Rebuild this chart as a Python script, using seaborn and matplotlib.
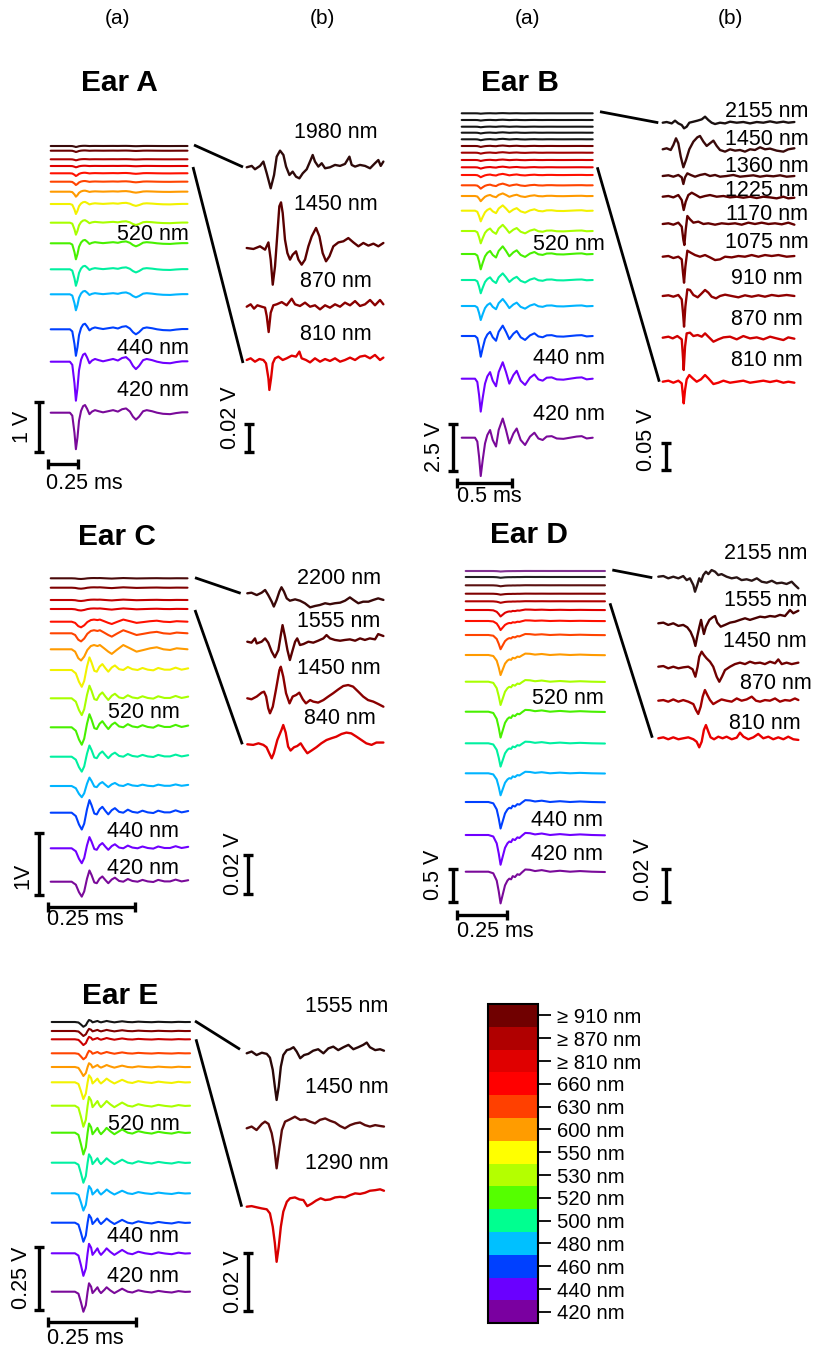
import numpy as np
import matplotlib
matplotlib.use("Agg")
import matplotlib.pyplot as plt
from matplotlib.colors import ListedColormap, BoundaryNorm
from matplotlib.cm import ScalarMappable
import seaborn as sns

sns.set_theme(style="white")
plt.rcParams["font.family"] = ["Liberation Sans", "DejaVu Sans"]
plt.rcParams["text.color"] = "black"

W, H = 815, 1349

# ---------------------------------------------------------------- data
# (a) columns: one normalised waveform per ear (dip = -1) times the dip depth in V
# (b) columns: zoomed infrared traces, time in ms, amplitude in mV

# Ear A
A_NM = [1980, 1450, 870, 810, 660, 630, 600, 550, 530, 520, 500, 480, 460, 440, 420]
A_DIP_V = [0.02, 0.026, 0.02, 0.026, 0.054, 0.066, 0.10, 0.20, 0.24, 0.32, 0.33, 0.32, 0.53, 0.78, 0.73]
A_SHAPE_MS = [0, 0.16, 0.18, 0.198, 0.21, 0.223, 0.236, 0.253, 0.27, 0.286, 0.303, 0.323, 0.344, 0.369,
              0.40, 0.436, 0.478, 0.52, 0.56, 0.595, 0.628, 0.66, 0.686, 0.71, 0.736, 0.77, 0.80, 0.845,
              0.886, 0.936, 0.995, 1.045, 1.095, 1.14]
A_SHAPE = [0, 0, -0.08, -0.55, -1.0, -0.68, -0.22, 0.05, 0.18, 0.21, 0.11, -0.04, 0.03, 0.07,
           0.04, 0.01, 0.04, 0.07, 0.03, 0.095, 0.117, 0.03, -0.11, -0.19, -0.11, 0.04, 0.07, 0.04,
           0, -0.03, -0.04, -0.01, 0.01, 0.01]
A_ZOOM_NM = [1980, 1450, 870, 810]
A1980_MS = [0, 0.042, 0.069, 0.111, 0.139, 0.167, 0.2, 0.228, 0.25, 0.278, 0.306, 0.328, 0.356, 0.383,
            0.411, 0.439, 0.467, 0.5, 0.533, 0.55, 0.569, 0.597, 0.625, 0.653, 0.694, 0.736, 0.778,
            0.819, 0.856, 0.875, 0.903, 0.944, 0.986, 1.028, 1.069, 1.097, 1.117, 1.139]
A1980_MV = [0, 1.0, -1.4, 1.0, 4.1, -4.3, -15.0, -5.5, 7.6, 11.9, 8.8, 0.5, -5.5, -3.1,
            -6.7, -7.9, -4.3, -1.4, 5.2, 8.8, 4.1, 0.5, 2.9, -0.7, 0, 1.7, 1.0,
            2.4, 7.6, 1.7, 0.5, 1.7, 1.0, -0.7, 2.9, 5.2, 1.0, 4.1]
A1450_MS = [0, 0.056, 0.111, 0.153, 0.181, 0.2, 0.217, 0.236, 0.256, 0.272, 0.286, 0.3, 0.319, 0.339,
            0.361, 0.383, 0.411, 0.431, 0.458, 0.486, 0.514, 0.542, 0.578, 0.606, 0.633, 0.661, 0.689,
            0.722, 0.764, 0.806, 0.847, 0.889, 0.931, 0.972, 1.014, 1.056, 1.097, 1.139]
A1450_MV = [0, -0.7, 1.2, -1.2, 4.0, -8.3, -26.2, -13.1, 10.7, 29.8, 32.6, 25.0, 6.0, -3.6,
            -8.3, -4.8, -2.4, -8.3, -11.9, -8.3, 1.2, 8.3, 14.3, 8.3, -3.6, -9.5, -6.0,
            1.2, 4.0, 4.8, 7.1, 4.0, 1.2, 3.6, 1.7, 3.1, 1.2, 3.6]
A870_MS = [0, 0.033, 0.061, 0.089, 0.125, 0.153, 0.167, 0.183, 0.2, 0.222, 0.25, 0.292, 0.333, 0.375,
           0.403, 0.444, 0.486, 0.528, 0.569, 0.611, 0.653, 0.694, 0.736, 0.778, 0.819, 0.861, 0.903,
           0.944, 0.986, 1.028, 1.069, 1.111, 1.139]
A870_MV = [0, 1.7, -1.4, 1.0, 0, -0.7, -6.7, -18.1, -4.3, 1.0, 1.7, 3.3, 1.0, 5.7,
           1.7, 0.5, 2.9, 0, 1.0, -1.9, 1.0, -0.7, 1.7, 0, 2.9, 1.0, 4.0,
           0.5, 1.7, 4.8, 1.0, 4.8, 1.7]
A810_MS = [0, 0.033, 0.069, 0.106, 0.139, 0.161, 0.181, 0.189, 0.203, 0.217, 0.236, 0.264, 0.3, 0.333,
           0.375, 0.411, 0.439, 0.458, 0.494, 0.528, 0.569, 0.611, 0.653, 0.694, 0.736, 0.778, 0.819,
           0.861, 0.903, 0.944, 0.986, 1.028, 1.069, 1.111, 1.139]
A810_MV = [0, 1.2, -1.2, 0.7, 0, -2.4, -13.1, -21.4, -13.1, -2.4, 1.2, 2.4, 0, 1.2,
           3.1, 2.4, 6.0, 1.2, 0, -1.7, 1.2, -1.2, 0.7, -0.7, 1.2, -1.2, 0,
           1.7, 0, 2.4, 3.1, 1.2, 3.6, 0, 1.7]

# Ear B
B_NM = [2155, 1450, 1360, 1225, 1170, 1075, 910, 870, 810, 660, 630, 600, 550, 530, 520, 500, 480,
        460, 440, 420]
B_DIP_V = [0.02, 0.03, 0.03, 0.04, 0.05, 0.05, 0.05, 0.05, 0.07, 0.12, 0.18, 0.28, 0.57, 0.66, 0.82,
           0.71, 0.75, 1.11, 1.76, 2.05]
B_SHAPE_MS = [0, 0.121, 0.142, 0.158, 0.173, 0.191, 0.212, 0.233, 0.258, 0.282, 0.312, 0.336, 0.373,
              0.403, 0.433, 0.47, 0.5, 0.536, 0.576, 0.621, 0.661, 0.697, 0.736, 0.773, 0.818, 0.864,
              0.924, 0.985, 1.045, 1.091, 1.136, 1.191]
B_SHAPE = [0, 0, -0.10, -0.50, -1.0, -0.58, -0.15, 0.07, 0.20, -0.06, -0.23, 0.20, 0.50,
           0.20, -0.15, 0.11, 0.24, -0.06, -0.19, 0.03, 0.13, -0.02, -0.06, 0.03, 0.04, -0.02,
           -0.03, 0, 0.03, 0.04, -0.02, 0]
B_ZOOM_NM = [2155, 1450, 1360, 1225, 1170, 1075, 910, 870, 810]
B2155_MS = [0, 0.036, 0.082, 0.112, 0.142, 0.173, 0.194, 0.218, 0.242, 0.279, 0.315, 0.355, 0.385,
            0.415, 0.445, 0.476, 0.521, 0.567, 0.612, 0.673, 0.733, 0.794, 0.855, 0.915, 0.976,
            1.036, 1.097, 1.142, 1.197]
B2155_MV = [0, 1.3, -1.3, 3.8, -1.3, -4.4, -10.6, -7.5, 0, 1.9, 3.8, 6.3, 11.3,
            5.0, 0, -2.5, 0, -1.3, 1.9, 0, 1.3, -1.3, 1.3, 0, 2.5,
            0, 1.9, 0, 1.3]
B1450_MS = [0, 0.036, 0.073, 0.097, 0.121, 0.142, 0.164, 0.188, 0.212, 0.242, 0.279, 0.315, 0.339,
            0.37, 0.4, 0.43, 0.461, 0.491, 0.521, 0.567, 0.612, 0.658, 0.703, 0.748, 0.794, 0.839,
            0.885, 0.93, 0.976, 1.036, 1.097, 1.142, 1.197]
B1450_MV = [0, 1.9, -1.3, 8.1, 20.6, 11.3, -13.8, -33.8, -20.0, 0, 14.4, 22.5, 25.0,
            14.4, 6.3, 11.3, 16.3, 6.3, -1.3, -4.4, 0, -2.5, -1.3, -4.4, 0, -1.3,
            3.8, 0, 1.3, -2.5, -4.4, 0, 1.9]
B1360_MS = [0, 0.052, 0.097, 0.142, 0.173, 0.188, 0.203, 0.224, 0.255, 0.294, 0.339, 0.385, 0.43,
            0.476, 0.521, 0.582, 0.642, 0.703, 0.764, 0.824, 0.885, 0.945, 1.006, 1.067, 1.127, 1.197]
B1360_MV = [0, 1.3, -1.3, 1.9, -2.5, -15.0, -2.5, 5.0, 1.9, -1.3, 1.9, 3.8, 0,
            1.9, -1.3, 0, 1.9, -1.3, 0, 1.3, -1.3, 0.6, -0.6, 1.3, -1.3, 0]
B1225_MS = [0, 0.052, 0.097, 0.142, 0.173, 0.191, 0.209, 0.233, 0.264, 0.303, 0.339, 0.385, 0.43,
            0.491, 0.552, 0.612, 0.673, 0.733, 0.794, 0.855, 0.915, 0.976, 1.036, 1.097, 1.142, 1.197]
B1225_MV = [0, 1.3, -1.3, 3.1, -6.3, -25.0, -9.4, 3.1, 7.5, 3.1, -1.3, 1.3, 3.1,
            0, 1.3, -1.3, 0, -1.9, 0, -2.5, 0, -1.3, -3.1, 0, -3.1, -1.9]
B1170_MS = [0, 0.052, 0.097, 0.142, 0.173, 0.188, 0.197, 0.209, 0.224, 0.248, 0.279, 0.324, 0.37,
            0.415, 0.476, 0.536, 0.597, 0.658, 0.718, 0.779, 0.839, 0.9, 0.961, 1.021, 1.082, 1.142,
            1.197]
B1170_MV = [0, 1.3, -1.3, 2.5, -5.0, -30.0, -39.4, -11.3, 15.0, 8.8, 2.5, 4.4, 0,
            1.3, -1.3, 1.3, 0, 1.3, -1.3, 2.5, 0, 2.5, 0, 1.3, -0.6, 2.5, -1.3]
B1075_MS = [0, 0.052, 0.097, 0.142, 0.173, 0.185, 0.194, 0.206, 0.224, 0.255, 0.294, 0.339, 0.385,
            0.43, 0.476, 0.521, 0.567, 0.627, 0.688, 0.748, 0.809, 0.87, 0.93, 0.991, 1.052, 1.127,
            1.197]
B1075_MV = [0, 1.3, -2.5, 0, -5.0, -31.3, -48.8, -18.8, 11.3, 7.5, 3.1, 0, 3.1,
            -1.3, -6.3, -5.0, 0, -1.3, 1.3, 0, 3.1, 0, 3.1, 1.3, 3.1, 0, 1.3]
B910_MS = [0, 0.052, 0.097, 0.142, 0.173, 0.185, 0.194, 0.206, 0.224, 0.248, 0.279, 0.318, 0.355,
           0.385, 0.415, 0.445, 0.485, 0.521, 0.567, 0.627, 0.688, 0.748, 0.809, 0.87, 0.93, 0.991,
           1.052, 1.127, 1.197]
B910_MV = [0, 1.3, -1.3, 1.9, -6.3, -32.5, -57.5, -20.0, 12.5, 11.3, 1.9, -2.5, 5.0,
           11.3, 6.3, -1.3, -4.4, 0, 2.5, 0, -2.5, 1.3, -1.3, 1.3, -1.3, 1.9,
           0, 1.9, 0]
B870_MS = [0, 0.052, 0.091, 0.133, 0.173, 0.182, 0.191, 0.203, 0.218, 0.248, 0.279, 0.318, 0.355,
           0.385, 0.415, 0.461, 0.506, 0.552, 0.612, 0.673, 0.733, 0.794, 0.855, 0.915, 0.976, 1.036,
           1.097, 1.142, 1.197]
B870_MV = [0, 1.9, -1.3, 3.1, -3.1, -29.4, -60.6, -16.9, 8.1, 9.4, 3.1, 5.0, 1.9,
           8.1, 1.9, -7.5, -3.1, 0.6, 1.9, -3.1, 3.1, -1.3, 0.6, -3.1, 1.9, -1.3,
           -4.4, 0.6, -1.9]
B810_MS = [0, 0.052, 0.097, 0.142, 0.173, 0.182, 0.191, 0.203, 0.218, 0.242, 0.273, 0.309, 0.348,
           0.385, 0.415, 0.461, 0.506, 0.552, 0.612, 0.673, 0.733, 0.794, 0.855, 0.915, 0.976, 1.036,
           1.097, 1.142, 1.197]
B810_MV = [0, 1.9, -1.9, 1.9, -3.1, -21.9, -40.6, -15.6, 4.4, 12.5, 6.3, 0, 4.4,
           12.5, 6.3, -4.4, -1.9, 1.9, -1.9, 0, 1.9, -1.9, 0, 1.9, -0.6, 1.9,
           -1.9, 0, -1.9]

# Ear C (two waveform types: long and short wavelengths)
C_NM = [2200, 1555, 1450, 840, 660, 630, 600, 550, 530, 520, 500, 480, 460, 440, 420]
C_DIP_V = [0.011, 0.016, 0.016, 0.024, 0.09, 0.13, 0.18, 0.27, 0.27, 0.28, 0.24, 0.18, 0.27, 0.24, 0.24]
C_WAVE = ["red"] * 7 + ["blue"] * 8
C_RED_MS = [0, 0.06, 0.07, 0.079, 0.087, 0.096, 0.105, 0.115, 0.124, 0.134, 0.141, 0.153, 0.165,
            0.175, 0.189, 0.208, 0.227, 0.246, 0.266, 0.285, 0.304, 0.323, 0.342, 0.361, 0.392]
C_RED = [0, 0, -0.21, -0.79, -1.0, -0.65, -0.06, 0.29, 0.38, 0.29, 0.38, 0.09, -0.21,
         -0.41, -0.06, 0.38, 0.09, -0.21, -0.06, 0.09, 0.18, 0, -0.06, 0.09, 0]
C_BLUE_MS = [0, 0.06, 0.072, 0.081, 0.089, 0.096, 0.104, 0.111, 0.117, 0.125, 0.132, 0.14, 0.148,
             0.157, 0.165, 0.175, 0.184, 0.196, 0.208, 0.221, 0.234, 0.249, 0.263, 0.278, 0.294,
             0.308, 0.326, 0.342, 0.358, 0.375, 0.385, 0.394]
C_BLUE = [0, 0, -0.2, -0.7, -1.0, -0.65, 0.2, 0.75, 0.45, -0.05, -0.1, 0.2, 0.35,
          0.1, -0.1, 0.15, 0.27, 0.05, 0.0, 0.18, 0.05, 0.0, 0.12, 0.02, -0.02,
          0.12, 0.02, 0.02, 0.14, 0.02, 0.06, 0.1]
C_ZOOM_NM = [2200, 1555, 1450, 840]
C2200_MS = [0, 0.012, 0.027, 0.041, 0.051, 0.06, 0.07, 0.076, 0.084, 0.092, 0.098, 0.105, 0.113,
            0.122, 0.137, 0.151, 0.165, 0.18, 0.194, 0.208, 0.223, 0.237, 0.251, 0.266, 0.28, 0.294,
            0.304, 0.318, 0.332, 0.347, 0.361, 0.375, 0.39]
C2200_MV = [0, 0.3, -0.9, 0.3, 1.7, -0.9, -4.3, -6.8, -3.4, 0.9, 3.1, 0.9, -2.6,
            -3.8, -3.1, -3.8, -5.1, -7.2, -6.5, -6.0, -5.1, -5.6, -5.1, -4.8, -3.8, -2.1,
            -3.4, -5.1, -4.3, -4.3, -3.4, -2.6, -3.4]
C1555_MS = [0, 0.012, 0.022, 0.027, 0.041, 0.051, 0.06, 0.07, 0.079, 0.089, 0.096, 0.101, 0.108,
            0.115, 0.122, 0.13, 0.137, 0.143, 0.151, 0.161, 0.175, 0.189, 0.203, 0.218, 0.227, 0.237,
            0.251, 0.266, 0.28, 0.294, 0.309, 0.323, 0.337, 0.351, 0.366, 0.375, 0.39]
C1555_MV = [0, -0.5, 1.7, -0.9, 0, 1.7, -0.5, -5.1, -8.0, -4.3, 3.4, 8.5, 2.6,
            -4.3, -9.4, -4.3, 0, 1.7, -1.7, -1.2, 0, -0.5, 0.5, 1.7, 3.4, 1.7,
            0.9, 0.5, 0.9, 1.2, 0.5, 1.7, 0.9, 1.7, 1.2, 3.9, 2.9]
C1450_MS = [0, 0.012, 0.027, 0.041, 0.048, 0.054, 0.06, 0.065, 0.073, 0.082, 0.092, 0.096, 0.103,
            0.111, 0.121, 0.13, 0.14, 0.149, 0.159, 0.168, 0.18, 0.189, 0.203, 0.218, 0.232, 0.246,
            0.261, 0.275, 0.289, 0.303, 0.318, 0.332, 0.346, 0.361, 0.375, 0.39]
C1450_MV = [0, -0.5, 0.9, 2.9, 3.4, 0.9, -5.1, -7.7, -4.3, 4.3, 14.5, 16.2, 11.1,
            2.6, -2.6, 0.9, 1.7, 2.9, -0.5, -2.6, -0.9, -1.7, -2.2, -0.9, 0.9, 2.6,
            4.6, 6.3, 6.8, 6.0, 3.4, 0.9, -0.9, -1.7, -2.9, -4.3]
C840_MS = [0, 0.017, 0.032, 0.046, 0.055, 0.063, 0.07, 0.076, 0.086, 0.098, 0.103, 0.11, 0.117,
           0.124, 0.134, 0.143, 0.153, 0.162, 0.172, 0.184, 0.198, 0.212, 0.227, 0.241, 0.255, 0.27,
           0.284, 0.298, 0.313, 0.327, 0.341, 0.356, 0.37, 0.39]
C840_MV = [0, -0.3, 0.5, -0.3, -1.5, -4.6, -7.2, -4.6, 2.2, 7.4, 9.9, 6.0, -1.2,
           -3.2, -1.5, -0.9, 0.5, -2.1, -4.6, -3.2, -1.5, 0.5, 2.2, 3.1, 3.9, 5.3,
           6.0, 5.6, 3.9, 2.2, 0.5, -0.3, 0.9, 0.9]

# Ear D
D_NM = [420, 2155, 1555, 1450, 870, 810, 660, 630, 600, 530, 520, 500, 480, 460, 440, 420]
D_DIP_V = [0.008, 0.012, 0.015, 0.015, 0.023, 0.10, 0.14, 0.22, 0.31, 0.36, 0.40, 0.36, 0.34, 0.41,
           0.46, 0.49]
D_SHAPE_MS = [0, 0.112, 0.136, 0.153, 0.163, 0.172, 0.182, 0.194, 0.206, 0.215, 0.224, 0.232, 0.243,
              0.255, 0.265, 0.278, 0.294, 0.317, 0.342, 0.375, 0.416, 0.465, 0.515, 0.564, 0.622, 0.687]
D_SHAPE = [0, 0, -0.05, -0.28, -0.62, -1.0, -0.74, -0.43, -0.28, -0.22, -0.24, -0.14, -0.17,
           -0.08, -0.10, -0.02, 0.07, 0.06, 0.02, 0.05, 0.0, 0.03, 0.0, 0.02, 0.0, -0.01]
D_ZOOM_NM = [2155, 1555, 1450, 870, 810]
D2155_MS = [0, 0.025, 0.049, 0.074, 0.099, 0.123, 0.14, 0.156, 0.173, 0.181, 0.192, 0.202, 0.211,
            0.222, 0.235, 0.247, 0.263, 0.28, 0.296, 0.312, 0.337, 0.362, 0.387, 0.411, 0.436, 0.461,
            0.486, 0.51, 0.535, 0.56, 0.584, 0.609, 0.633, 0.658, 0.674, 0.691]
D2155_MV = [0, 0.4, -1.0, 0, -1.0, 0.4, -2.1, -1.0, -5.2, -9.3, -5.2, -1.0, -3.1,
            1.0, 3.1, 1.6, 4.1, 3.1, 1.0, 1.6, 0, -1.0, -0.4, -2.1, -1.6, -2.5,
            -1.0, -3.1, -3.7, -2.5, -4.1, -3.7, -4.5, -3.1, -5.2, -7.2]
D1555_MS = [0, 0.025, 0.049, 0.074, 0.099, 0.123, 0.143, 0.159, 0.173, 0.183, 0.192, 0.202, 0.211,
            0.219, 0.225, 0.235, 0.252, 0.268, 0.28, 0.291, 0.308, 0.329, 0.354, 0.378, 0.403, 0.428,
            0.452, 0.477, 0.502, 0.526, 0.551, 0.576, 0.6, 0.625, 0.65, 0.666, 0.691]
D1555_MV = [0, 0.4, -1.0, 0, -1.6, -1.0, -2.5, -5.2, -9.3, -14.0, -8.2, -2.5, 2.1,
            -3.1, -6.6, -2.1, 2.1, 3.7, 4.5, 0.4, -2.1, -1.0, 0.4, 1.0, 2.1, 3.1,
            2.1, 3.1, 4.1, 3.7, 4.5, 4.1, 5.2, 4.5, 8.2, 6.2, 7.8]
D1450_MS = [0, 0.025, 0.049, 0.074, 0.099, 0.123, 0.148, 0.169, 0.183, 0.194, 0.202, 0.214, 0.225,
            0.238, 0.255, 0.271, 0.288, 0.301, 0.314, 0.329, 0.354, 0.378, 0.403, 0.428, 0.452, 0.477,
            0.502, 0.526, 0.551, 0.576, 0.592, 0.609, 0.633, 0.658, 0.691]
D1450_MV = [0, 0.4, -1.0, 0, -1.0, -0.4, 0, -1.6, -6.2, 0, 6.2, 9.3, 7.2,
            5.2, 3.1, 0, -6.2, -9.3, -6.2, -2.1, 0, 1.6, 2.5, 1.6, 3.1, 2.1,
            2.5, 1.6, 3.1, 2.1, 4.5, 1.6, 2.5, 1.6, 2.5]
D870_MS = [0, 0.025, 0.049, 0.074, 0.099, 0.123, 0.148, 0.173, 0.186, 0.197, 0.209, 0.219, 0.23,
           0.242, 0.255, 0.271, 0.291, 0.312, 0.337, 0.362, 0.387, 0.411, 0.436, 0.461, 0.482, 0.502,
           0.526, 0.551, 0.576, 0.6, 0.625, 0.65, 0.674, 0.691]
D870_MV = [0, 0.4, -0.6, 0.8, -0.6, 0.4, -0.6, -2.1, -5.8, -8.2, -3.7, 2.5, 6.6,
           3.5, 0.4, -2.1, -0.6, 0.8, 0, -0.6, 1.4, 0, 0.8, 2.5, 0, -0.6,
           0.4, 0, 1.4, -0.6, 0.4, 0, 1.4, 0.4]
D810_MS = [0, 0.025, 0.049, 0.074, 0.099, 0.123, 0.148, 0.173, 0.189, 0.202, 0.214, 0.225, 0.235,
           0.247, 0.258, 0.275, 0.296, 0.317, 0.337, 0.362, 0.387, 0.403, 0.42, 0.444, 0.469, 0.493,
           0.518, 0.543, 0.567, 0.592, 0.617, 0.641, 0.666, 0.691]
D810_MV = [0, 0.6, -0.6, 0.6, -0.6, 0, 0.6, -0.6, -2.1, -5.6, -2.1, 5.2, 8.2,
           4.1, 0.6, -0.6, 1.0, 0, 1.0, -0.6, 0.4, 3.5, 1.0, -0.6, 0.6, 2.7,
           0, 1.0, -0.6, 0.6, -0.6, 1.0, -0.6, -1.0]

# Ear E
E_NM = [1555, 1450, 1290, 630, 600, 550, 530, 520, 500, 480, 460, 440, 420]
E_DIP_V = [0.019, 0.020, 0.023, 0.024, 0.036, 0.067, 0.084, 0.087, 0.080, 0.069, 0.076, 0.090, 0.080]
E_SHAPE_MS = [0, 0.066, 0.076, 0.083, 0.09, 0.097, 0.102, 0.106, 0.112, 0.116, 0.123, 0.13, 0.135,
              0.14, 0.15, 0.156, 0.166, 0.178, 0.189, 0.2, 0.216, 0.229, 0.246, 0.265, 0.284, 0.303,
              0.322, 0.341, 0.36, 0.379, 0.393]
E_SHAPE = [0, 0, -0.10, -0.52, -1.0, -0.67, 0.0, 0.42, 0.25, -0.07, 0.07, 0.22, 0.04,
           -0.07, 0.10, 0.22, 0.07, -0.07, 0.04, 0.15, 0, -0.04, 0.07, 0, -0.04, 0.04,
           -0.01, -0.04, 0.03, -0.01, 0]
E_ZOOM_NM = [1555, 1450, 1290]
E1555_MS = [0, 0.014, 0.028, 0.043, 0.057, 0.066, 0.074, 0.08, 0.085, 0.091, 0.097, 0.104, 0.114,
            0.123, 0.133, 0.142, 0.152, 0.163, 0.175, 0.189, 0.203, 0.218, 0.232, 0.246, 0.26, 0.275,
            0.289, 0.303, 0.317, 0.331, 0.341, 0.35, 0.365, 0.379, 0.39]
E1555_MV = [0, 0.6, -0.6, 0.2, -0.2, -1.5, -5.7, -11.5, -16.1, -11.5, -4.6, -0.6, 1.1,
            1.4, 2.1, 0.6, -1.7, -0.6, -0.2, 0.9, 1.4, 0, 1.7, 2.3, 1.1, 2.1,
            2.9, 1.4, 2.1, 2.9, 3.7, 2.1, 1.1, 1.4, 0.9]
E1450_MS = [0, 0.014, 0.028, 0.043, 0.052, 0.062, 0.071, 0.078, 0.085, 0.092, 0.1, 0.109, 0.123,
            0.137, 0.152, 0.166, 0.18, 0.194, 0.208, 0.223, 0.237, 0.251, 0.265, 0.279, 0.294, 0.308,
            0.322, 0.336, 0.35, 0.365, 0.379, 0.39]
E1450_MV = [0, 0.6, -0.6, 1.5, 2.3, 1.5, -1.7, -6.3, -13.8, -7.5, -0.6, 2.3, 3.1,
            4.0, 2.9, 3.1, 2.3, 1.7, 2.9, 3.4, 2.6, 2.0, 0.8, 0, 1.1, 1.7,
            2.0, 1.1, 0.6, 1.1, 0.8, 0.6]
E1290_MS = [0, 0.014, 0.028, 0.043, 0.057, 0.066, 0.074, 0.08, 0.085, 0.091, 0.097, 0.104, 0.114,
            0.123, 0.137, 0.15, 0.161, 0.172, 0.185, 0.197, 0.21, 0.223, 0.237, 0.251, 0.265, 0.279,
            0.294, 0.308, 0.322, 0.336, 0.35, 0.365, 0.379, 0.39]
E1290_MV = [0, 0.2, -0.2, -0.6, -0.9, -2.3, -6.9, -12.6, -19.0, -13.8, -6.9, -1.7, 1.7,
            2.9, 3.2, 2.5, 2.3, 0.2, 1.1, 2.1, 2.9, 2.3, 2.5, 3.2, 3.4, 3.2,
            4.0, 4.6, 4.4, 4.8, 5.5, 5.7, 6.0, 5.5]

# scale-bar values: (a) volts, (a) ms, (b) mV
A_BARS = (1.0, 0.25, 20)
B_BARS = (2.5, 0.5, 50)
C_BARS = (1.0, 0.25, 20)
D_BARS = (0.5, 0.25, 20)
E_BARS = (0.25, 0.25, 20)

LEGEND_LABELS = ["≥ 910 nm", "≥ 870 nm", "≥ 810 nm", "660 nm", "630 nm", "600 nm", "550 nm",
                 "530 nm", "520 nm", "500 nm", "480 nm", "460 nm", "440 nm", "420 nm"]

# ---------------------------------------------------------------- styles
LEGEND_COLORS = ["#700000", "#b00000", "#e00000", "#ff0000", "#ff4000", "#ff9c00", "#ffff00",
                 "#b4ff00", "#55ff00", "#00ff90", "#00c0ff", "#0040ff", "#6a00ff", "#7a00a0"]
VIS = {420: "#7a0a9a", 440: "#7000ff", 460: "#0040ff", 480: "#00b4ff", 500: "#00f0a0",
       520: "#48f000", 530: "#a8ff00", 550: "#f2f200", 600: "#ff9a00", 630: "#ff4400", 660: "#ff1000"}
LABEL_PT = 15.5

# pixel layout of each ear (positions only)
LAYOUT = {
    "A": dict(title=(119.5, 83),
              a_xo=50.7, a_sx=120, a_sy=50,
              a_base=[146, 150.7, 159.3, 166, 173.3, 181.7, 191.7, 204, 222.7, 243.3, 269.3,
                      294.3, 329.3, 361.7, 412.7],
              a_ir=["#3a0a0a", "#6a0000", "#b00000", "#e00000"],
              a_lab_x=189, a_lab_y=[235, 348, 390],
              b_xo=246.7, b_sx=120, b_sy=1.4, b_base=[167.3, 248, 306.7, 360],
              b_col=["#2e0a0a", "#5a0000", "#8a0000", "#e00000"],
              b_lab_x=[336] * 4, b_lab_y=[132.7, 204, 281.7, 335],
              vbar_a=(39.3, 451.7), hbar_a=(47.7, 464.3), vbar_b=(249.3, 451.7),
              vlab_a=(22, 427, "1 V"), hlab_a=(46, 483.3), vlab_b=(230, 418),
              conn=[((194, 145), (243, 167)), ((193, 167), (243, 363))]),
    "B": dict(title=(519.5, 83),
              a_xo=461.7, a_sx=110, a_sy=18.7,
              a_base=[113.3, 120, 126.7, 132.7, 139.3, 146, 152.7, 160, 167.3, 175, 185.3, 196,
                      210.7, 231, 254, 280, 306, 336, 378.7, 437.7],
              a_ir=["#151515"] * 5 + ["#700000", "#a00000", "#d00000", "#e80000"],
              a_lab_x=605, a_lab_y=[244.3, 359, 415],
              b_xo=662.7, b_sx=110, b_sy=0.533,
              b_base=[122.7, 149.3, 176, 196.7, 224, 256.7, 296, 337.7, 381.7],
              b_col=["#1a1010", "#3a0a0a", "#4a0505", "#5a0000", "#650000", "#780000", "#900000",
                     "#d00000", "#f00000"],
              b_lab_x=[767] * 9,
              b_lab_y=[111.7, 139.3, 166.7, 190, 215, 242.7, 278.3, 319.3, 360],
              vbar_a=(452.7, 470.7), hbar_a=(456.7, 482.7), vbar_b=(665.7, 470),
              vlab_a=(435, 446.7, "2.5 V"), hlab_a=(457, 497), vlab_b=(646.7, 440),
              conn=[((600, 111.7), (658.3, 122.7)), ((597.3, 167.3), (659.3, 381.7))]),
    "C": dict(title=(117, 537),
              a_xo=50.7, a_sx=349, a_sy=62.3,
              a_base=[578.3, 587.7, 600, 609, 621.7, 633.3, 649.3, 670, 698.3, 727.3, 756.7, 786,
                      812.7, 848.3, 881.7],
              a_ir=["#4a0a0a", "#800000", "#c00000", "#e00000"],
              a_lab_x=179.3, a_lab_y=[712.7, 831.7, 868.3],
              b_xo=247.3, b_sx=349, b_sy=1.95, b_base=[593.3, 641.7, 698.3, 744.3],
              b_col=["#3a0808", "#5a0000", "#8a0000", "#e00000"],
              b_lab_x=[339, 339, 339, 340], b_lab_y=[578.3, 621.7, 668.3, 718.3],
              vbar_a=(39.3, 895), hbar_a=(47.7, 906.7), vbar_b=(248.3, 894),
              vlab_a=(23.3, 876, "1V"), hlab_a=(46.7, 919.3), vlab_b=(233.3, 863.3),
              conn=[((195, 577.7), (240.7, 593.3)), ((195, 610), (242.3, 744.3))]),
    "D": dict(title=(528.7, 535),
              a_xo=465.7, a_sx=202.7, a_sy=64.7,
              a_base=[571, 577, 585.3, 593.7, 601.3, 610, 621, 635, 655, 681.7, 711.7, 743.3,
                      773.3, 802, 835, 871.7],
              a_ir=["#803090", "#202020", "#5a1010", "#800000", "#b00000", "#e00000"],
              a_lab_x=603.3, a_lab_y=[698.3, 820, 854],
              b_xo=658.3, b_sx=202.7, b_sy=1.617, b_base=[576.7, 623.3, 666.7, 700.7, 738.3],
              b_col=["#2a1515", "#4a0000", "#700000", "#a00000", "#e80000"],
              b_lab_x=[765.3, 765.3, 765.3, 776, 765], b_lab_y=[553.3, 600.7, 641.7, 683.3, 723.3],
              vbar_a=(453.3, 901.7), hbar_a=(456.7, 915), vbar_b=(665.7, 901.7),
              vlab_a=(433.3, 875, "0.5 V"), hlab_a=(456.7, 931.7), vlab_b=(643.3, 870),
              conn=[((612.3, 570), (652.3, 577.7)), ((610, 603.3), (652.3, 737.7))]),
    "E": dict(title=(120, 996),
              a_xo=51.7, a_sx=352, a_sy=250.7,
              a_base=[1022, 1031, 1039.3, 1053.3, 1067, 1082.3, 1105.7, 1132.7, 1162.7, 1193.3,
                      1222.7, 1253.3, 1291.7],
              a_ir=["#151515", "#800000", "#cc0000"],
              a_lab_x=179.3, a_lab_y=[1124, 1236.7, 1276],
              b_xo=246.7, b_sx=352, b_sy=2.9, b_base=[1053.3, 1128.3, 1206.7],
              b_col=["#2a0808", "#5a0a0a", "#d80000"],
              b_lab_x=[346.7] * 3, b_lab_y=[1006.7, 1087.3, 1163.3],
              vbar_a=(39.3, 1310), hbar_a=(47.7, 1321.7), vbar_b=(248.3, 1310.7),
              vlab_a=(21.7, 1278.3, "0.25 V"), hlab_a=(46.7, 1338.3), vlab_b=(233.3, 1281.7),
              conn=[((195, 1021), (240, 1049.3)), ((196, 1039.3), (241.7, 1206.7))]),
}

# ---------------------------------------------------------------- figure
fig = plt.figure(figsize=(W / 100, H / 100), dpi=100)
fig.patch.set_facecolor("white")

ov = fig.add_axes([0, 0, 1, 1])
ov.set_axis_off()
ov.set_xlim(0, W)
ov.set_ylim(H, 0)


def scaled_axes():
    ax = fig.add_axes([0, 0, 1, 1])
    ax.set_axis_off()
    ax.patch.set_visible(False)
    return ax


def fit_limits(ax, xo, sx, sy):
    # map t=0 to pixel xo, value 0 to the bottom edge of the figure
    ax.set_xlim(-xo / sx, (W - xo) / sx)
    ax.set_ylim(0, H / sy)


def trace(ax, t, v, off, color, lw):
    if len(t) != len(v):
        raise ValueError(f"length mismatch {len(t)} vs {len(v)}")
    sns.lineplot(x=list(t), y=np.asarray(v, float) + off, ax=ax, color=color, linewidth=lw,
                 estimator=None, sort=False, legend=False)


def vbar(ax, x_px, ybot_px, length, xo, sx, sy):
    t = (x_px - xo) / sx
    v0 = (H - ybot_px) / sy
    ax.plot([t, t], [v0, v0 + length], color="black", lw=2.4, marker="_", ms=6.5, mew=2.4,
            solid_capstyle="butt")


def hbar(ax, x_px, y_px, length, xo, sx, sy):
    t0 = (x_px - xo) / sx
    v = (H - y_px) / sy
    ax.plot([t0, t0 + length], [v, v], color="black", lw=2.4, marker="|", ms=6.5, mew=2.4,
            solid_capstyle="butt")


def draw_ear(key, nms, dips, waves, zoom_nms, zoom_data, bars):
    L = LAYOUT[key]
    # (a) stacked traces
    ax = scaled_axes()
    n_ir = len(L["a_ir"])
    for i, nm in enumerate(nms):
        col = L["a_ir"][i] if i < n_ir else VIS[nm]
        st, sv = waves[i]
        off = (H - L["a_base"][i]) / L["a_sy"]
        trace(ax, st, np.asarray(sv) * dips[i], off, col, 1.5)
    vbar(ax, *L["vbar_a"], bars[0], L["a_xo"], L["a_sx"], L["a_sy"])
    hbar(ax, *L["hbar_a"], bars[1], L["a_xo"], L["a_sx"], L["a_sy"])
    fit_limits(ax, L["a_xo"], L["a_sx"], L["a_sy"])

    # (b) zoomed infrared traces
    bx = scaled_axes()
    for i, nm in enumerate(zoom_nms):
        t, v = zoom_data[i]
        off = (H - L["b_base"][i]) / L["b_sy"]
        trace(bx, t, v, off, L["b_col"][i], 1.7)
        ov.text(L["b_lab_x"][i], L["b_lab_y"][i], f"{nm} nm", ha="center", va="center",
                fontsize=LABEL_PT)
    vbar(bx, *L["vbar_b"], bars[2], L["b_xo"], L["b_sx"], L["b_sy"])
    fit_limits(bx, L["b_xo"], L["b_sx"], L["b_sy"])

    # text, labels, connectors
    ov.text(*L["title"], f"Ear {key}", ha="center", va="center", fontsize=21.5, fontweight="bold")
    for s, y in zip(["520 nm", "440 nm", "420 nm"], L["a_lab_y"]):
        ov.text(L["a_lab_x"], y, s, ha="right", va="center", fontsize=LABEL_PT)
    vx, vy, vs = L["vlab_a"]
    ov.text(vx, vy, vs, rotation=90, ha="center", va="center", fontsize=LABEL_PT)
    hx, hy = L["hlab_a"]
    ov.text(hx, hy, f"{bars[1]:g} ms", ha="left", va="center", fontsize=LABEL_PT)
    bxp, byp = L["vlab_b"]
    ov.text(bxp, byp, f"{bars[2] / 1000:g} V", rotation=90, ha="center", va="center",
            fontsize=LABEL_PT)
    for (x0, y0), (x1, y1) in L["conn"]:
        ov.plot([x0, x1], [y0, y1], color="black", lw=2.0, solid_capstyle="butt")


draw_ear("A", A_NM, A_DIP_V, [(A_SHAPE_MS, A_SHAPE)] * len(A_NM), A_ZOOM_NM,
         [(A1980_MS, A1980_MV), (A1450_MS, A1450_MV), (A870_MS, A870_MV), (A810_MS, A810_MV)],
         A_BARS)
draw_ear("B", B_NM, B_DIP_V, [(B_SHAPE_MS, B_SHAPE)] * len(B_NM), B_ZOOM_NM,
         [(B2155_MS, B2155_MV), (B1450_MS, B1450_MV), (B1360_MS, B1360_MV), (B1225_MS, B1225_MV),
          (B1170_MS, B1170_MV), (B1075_MS, B1075_MV), (B910_MS, B910_MV), (B870_MS, B870_MV),
          (B810_MS, B810_MV)],
         B_BARS)
c_waves = [(C_RED_MS, C_RED) if w == "red" else (C_BLUE_MS, C_BLUE) for w in C_WAVE]
draw_ear("C", C_NM, C_DIP_V, c_waves, C_ZOOM_NM,
         [(C2200_MS, C2200_MV), (C1555_MS, C1555_MV), (C1450_MS, C1450_MV), (C840_MS, C840_MV)],
         C_BARS)
draw_ear("D", D_NM, D_DIP_V, [(D_SHAPE_MS, D_SHAPE)] * len(D_NM), D_ZOOM_NM,
         [(D2155_MS, D2155_MV), (D1555_MS, D1555_MV), (D1450_MS, D1450_MV), (D870_MS, D870_MV),
          (D810_MS, D810_MV)],
         D_BARS)
draw_ear("E", E_NM, E_DIP_V, [(E_SHAPE_MS, E_SHAPE)] * len(E_NM), E_ZOOM_NM,
         [(E1555_MS, E1555_MV), (E1450_MS, E1450_MV), (E1290_MS, E1290_MV)],
         E_BARS)

# column headers
for x, s in [(117, "(a)"), (322, "(b)"), (527, "(a)"), (730, "(b)")]:
    ov.text(x, 19, s, ha="center", va="center", fontsize=15)

# colour key
cb_x0, cb_x1, cb_y0, cb_y1 = 488.3, 537.7, 1004, 1323.3
cax = fig.add_axes([cb_x0 / W, 1 - cb_y1 / H, (cb_x1 - cb_x0) / W, (cb_y1 - cb_y0) / H])
n_key = len(LEGEND_LABELS)
cmap = ListedColormap(LEGEND_COLORS[::-1])
norm = BoundaryNorm(np.arange(n_key + 1), cmap.N)
cb = fig.colorbar(ScalarMappable(norm=norm, cmap=cmap), cax=cax,
                  ticks=np.arange(n_key) + 0.5)
cb.minorticks_off()
cb.set_ticklabels(LEGEND_LABELS[::-1])
cb.ax.tick_params(which="major", right=True, length=9, width=1.3, pad=5, labelsize=14.6,
                  color="black", labelcolor="black", direction="out")
cb.ax.tick_params(which="minor", length=0)
cb.outline.set_linewidth(1.5)
cb.outline.set_edgecolor("black")

fig.savefig("out.png", dpi=100, facecolor="white")
